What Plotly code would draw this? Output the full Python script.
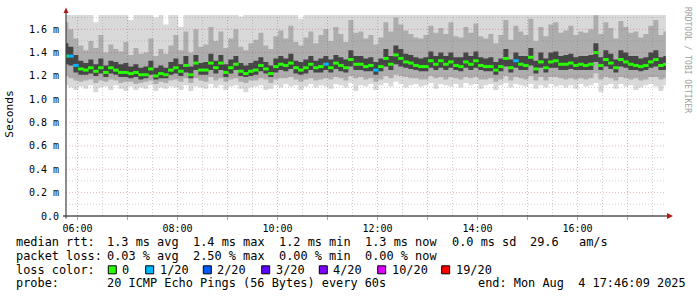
import plotly.graph_objects as go
import pandas as pd

# ---------------- data (milliseconds) ----------------
start_time = "2025-08-04 05:46:00"
end_time = "2025-08-04 17:46:00"
step = "6min"

median = [1.37, 1.37, 1.29, 1.26, 1.25, 1.27, 1.24, 1.27, 1.23, 1.27, 1.25,
          1.23, 1.23, 1.22, 1.23, 1.21, 1.21, 1.26, 1.20, 1.22, 1.21,
          1.25, 1.27, 1.24, 1.29, 1.21, 1.31, 1.25, 1.25, 1.31, 1.27,
          1.31, 1.23, 1.27, 1.30, 1.24, 1.22, 1.24, 1.25, 1.29, 1.26,
          1.22, 1.28, 1.30, 1.29, 1.31, 1.27, 1.25, 1.27, 1.30, 1.27,
          1.28, 1.30, 1.27, 1.31, 1.29, 1.27, 1.34, 1.30, 1.30, 1.28,
          1.29, 1.25, 1.28, 1.35, 1.30, 1.38, 1.35, 1.32, 1.31, 1.29,
          1.28, 1.28, 1.33, 1.30, 1.33, 1.30, 1.32, 1.29, 1.28, 1.32,
          1.30, 1.33, 1.29, 1.28, 1.28, 1.25, 1.28, 1.35, 1.27, 1.33,
          1.30, 1.29, 1.36, 1.26, 1.32, 1.27, 1.32, 1.33, 1.30, 1.30,
          1.31, 1.29, 1.30, 1.29, 1.30, 1.40, 1.29, 1.34, 1.31, 1.27,
          1.34, 1.32, 1.30, 1.29, 1.28, 1.29, 1.32, 1.34, 1.29, 1.30]

smoke_min = [1.12, 1.10, 1.08, 1.11, 1.09, 1.12, 1.06, 1.10, 1.11, 1.08, 1.12,
             1.09, 1.07, 1.11, 1.08, 1.10, 1.09, 1.12, 1.07, 1.10, 1.09,
             1.11, 1.10, 1.08, 1.12, 1.07, 1.11, 1.10, 1.09, 1.13, 1.10,
             1.12, 1.08, 1.11, 1.12, 1.09, 1.06, 1.10, 1.11, 1.12, 1.08,
             1.09, 1.12, 1.10, 1.13, 1.11, 1.12, 1.08, 1.11, 1.13, 1.10,
             1.12, 1.11, 1.09, 1.13, 1.12, 1.10, 1.14, 1.07, 1.12, 1.11,
             1.13, 1.08, 1.12, 1.14, 1.11, 1.15, 1.13, 1.10, 1.12, 1.13,
             1.11, 1.12, 1.14, 1.09, 1.13, 1.12, 1.11, 1.13, 1.10, 1.14,
             1.12, 1.13, 1.09, 1.12, 1.13, 1.08, 1.12, 1.14, 1.10, 1.13,
             1.12, 1.11, 1.13, 1.09, 1.12, 1.10, 1.13, 1.11, 1.12, 1.10,
             1.12, 1.09, 1.13, 1.11, 1.12, 1.14, 1.06, 1.12, 1.13, 1.09,
             1.13, 1.11, 1.12, 1.08, 1.10, 1.12, 1.13, 1.11, 1.07, 1.12]

smoke_low2 = [1.20, 1.18, 1.16, 1.15, 1.16, 1.17, 1.14, 1.16, 1.15, 1.17, 1.16,
              1.14, 1.15, 1.15, 1.13, 1.14, 1.15, 1.16, 1.13, 1.15, 1.14,
              1.16, 1.17, 1.15, 1.18, 1.14, 1.18, 1.16, 1.15, 1.19, 1.16,
              1.18, 1.15, 1.17, 1.18, 1.15, 1.14, 1.16, 1.16, 1.18, 1.17,
              1.14, 1.17, 1.18, 1.18, 1.19, 1.17, 1.15, 1.17, 1.18, 1.16,
              1.17, 1.18, 1.17, 1.19, 1.18, 1.16, 1.20, 1.18, 1.19, 1.17,
              1.18, 1.15, 1.17, 1.20, 1.18, 1.21, 1.20, 1.19, 1.18, 1.18,
              1.17, 1.17, 1.20, 1.18, 1.19, 1.17, 1.19, 1.18, 1.17, 1.19,
              1.18, 1.19, 1.17, 1.17, 1.18, 1.15, 1.17, 1.20, 1.16, 1.19,
              1.18, 1.17, 1.20, 1.16, 1.19, 1.16, 1.19, 1.19, 1.18, 1.17,
              1.18, 1.17, 1.18, 1.17, 1.18, 1.22, 1.17, 1.19, 1.18, 1.16,
              1.19, 1.18, 1.17, 1.18, 1.16, 1.17, 1.19, 1.19, 1.17, 1.18]

smoke_low1 = [1.30, 1.29, 1.23, 1.21, 1.21, 1.22, 1.20, 1.22, 1.19, 1.22, 1.21,
              1.19, 1.19, 1.18, 1.19, 1.17, 1.18, 1.21, 1.17, 1.18, 1.18,
              1.21, 1.22, 1.20, 1.23, 1.18, 1.25, 1.21, 1.21, 1.25, 1.22,
              1.25, 1.19, 1.22, 1.25, 1.20, 1.19, 1.20, 1.21, 1.24, 1.22,
              1.19, 1.23, 1.25, 1.24, 1.26, 1.22, 1.21, 1.22, 1.25, 1.23,
              1.23, 1.25, 1.23, 1.26, 1.24, 1.23, 1.28, 1.25, 1.25, 1.24,
              1.24, 1.21, 1.24, 1.28, 1.25, 1.30, 1.28, 1.27, 1.26, 1.25,
              1.24, 1.24, 1.27, 1.25, 1.27, 1.25, 1.27, 1.25, 1.24, 1.27,
              1.25, 1.27, 1.25, 1.24, 1.24, 1.21, 1.24, 1.28, 1.23, 1.27,
              1.25, 1.25, 1.29, 1.22, 1.27, 1.23, 1.27, 1.27, 1.25, 1.25,
              1.26, 1.25, 1.25, 1.25, 1.25, 1.32, 1.25, 1.28, 1.26, 1.23,
              1.28, 1.27, 1.25, 1.25, 1.24, 1.25, 1.27, 1.28, 1.25, 1.25]

smoke_high1 = [1.48, 1.45, 1.38, 1.33, 1.31, 1.34, 1.30, 1.35, 1.29, 1.33, 1.32,
               1.30, 1.31, 1.28, 1.30, 1.27, 1.28, 1.33, 1.27, 1.29, 1.27,
               1.32, 1.35, 1.30, 1.37, 1.28, 1.38, 1.31, 1.32, 1.39, 1.33,
               1.38, 1.30, 1.34, 1.37, 1.31, 1.29, 1.31, 1.33, 1.36, 1.32,
               1.29, 1.35, 1.37, 1.35, 1.39, 1.33, 1.32, 1.34, 1.37, 1.33,
               1.35, 1.37, 1.34, 1.38, 1.36, 1.34, 1.42, 1.37, 1.37, 1.35,
               1.36, 1.32, 1.35, 1.43, 1.37, 1.46, 1.43, 1.39, 1.38, 1.36,
               1.35, 1.36, 1.41, 1.37, 1.40, 1.37, 1.40, 1.36, 1.36, 1.40,
               1.37, 1.41, 1.36, 1.35, 1.36, 1.32, 1.35, 1.43, 1.34, 1.40,
               1.37, 1.37, 1.44, 1.33, 1.40, 1.35, 1.40, 1.41, 1.37, 1.38,
               1.39, 1.36, 1.37, 1.37, 1.38, 1.48, 1.36, 1.42, 1.39, 1.34,
               1.42, 1.40, 1.37, 1.37, 1.35, 1.36, 1.40, 1.42, 1.36, 1.37]

smoke_high2 = [1.66, 1.60, 1.52, 1.46, 1.42, 1.50, 1.44, 1.55, 1.40, 1.47, 1.43,
               1.41, 1.49, 1.38, 1.44, 1.39, 1.40, 1.52, 1.37, 1.43, 1.39,
               1.46, 1.55, 1.42, 1.58, 1.40, 1.60, 1.45, 1.47, 1.62, 1.50,
               1.58, 1.44, 1.52, 1.60, 1.45, 1.42, 1.48, 1.51, 1.57, 1.46,
               1.43, 1.54, 1.59, 1.52, 1.63, 1.49, 1.46, 1.53, 1.58, 1.48,
               1.55, 1.60, 1.50, 1.62, 1.56, 1.49, 1.68, 1.57, 1.58, 1.52,
               1.55, 1.47, 1.53, 1.66, 1.58, 1.70, 1.64, 1.59, 1.56, 1.53,
               1.52, 1.55, 1.63, 1.57, 1.61, 1.56, 1.66, 1.54, 1.53, 1.62,
               1.57, 1.65, 1.54, 1.52, 1.56, 1.48, 1.55, 1.68, 1.51, 1.63,
               1.58, 1.55, 1.69, 1.50, 1.62, 1.54, 1.64, 1.66, 1.57, 1.59,
               1.63, 1.55, 1.58, 1.57, 1.60, 1.72, 1.56, 1.66, 1.61, 1.52,
               1.67, 1.62, 1.57, 1.58, 1.53, 1.56, 1.63, 1.68, 1.55, 1.58]

smoke_max = [1.90, 1.85, 1.80, 1.76, 1.74, 1.80, 1.66, 1.78, 1.75, 1.80, 1.73,
             1.76, 1.82, 1.68, 1.75, 1.74, 1.79, 1.85, 1.70, 1.77, 1.64,
             1.78, 1.80, 1.62, 1.86, 1.76, 1.84, 1.75, 1.78, 1.88, 1.80,
             1.84, 1.74, 1.79, 1.82, 1.71, 1.78, 1.80, 1.83, 1.86, 1.76,
             1.74, 1.82, 1.85, 1.79, 1.88, 1.78, 1.69, 1.80, 1.86, 1.77,
             1.80, 1.84, 1.76, 1.88, 1.82, 1.75, 1.92, 1.80, 1.85, 1.78,
             1.83, 1.76, 1.81, 1.90, 1.84, 1.95, 1.88, 1.82, 1.80, 1.79,
             1.78, 1.83, 1.88, 1.80, 1.85, 1.82, 1.90, 1.79, 1.81, 1.87,
             1.82, 1.89, 1.78, 1.76, 1.83, 1.74, 1.81, 1.92, 1.77, 1.88,
             1.84, 1.80, 1.93, 1.76, 1.86, 1.79, 1.88, 1.90, 1.82, 1.84,
             1.87, 1.80, 1.74, 1.83, 1.85, 1.96, 1.81, 1.90, 1.86, 1.78,
             1.91, 1.86, 1.82, 1.83, 1.78, 1.80, 1.87, 1.92, 1.81, 1.84]

# samples that lost 1 of 20 pings
loss_index = [1, 2, 52, 62, 90]

# axis ticks
y_tick_values = [0.0, 0.2, 0.4, 0.6, 0.8, 1.0, 1.2, 1.4, 1.6]
y_tick_labels = ["0.0", "0.2 m", "0.4 m", "0.6 m", "0.8 m", "1.0 m", "1.2 m", "1.4 m", "1.6 m"]

# legend statistics
rtt_stat_names = ["avg", "max", "min", "now"]
rtt_stat_values = [1.3, 1.4, 1.2, 1.3]
rtt_sd = 0.0
rtt_am_s = 29.6
loss_stat_values = [0.03, 2.50, 0.00, 0.00]
loss_color_labels = ["0", "1/20", "2/20", "3/20", "4/20", "10/20", "19/20"]
loss_colors = ["#26ff00", "#00b8ff", "#0059ff", "#5e00ff", "#7e00ff", "#dd00ff", "#ff0000"]
probe_text = "20 ICMP Echo Pings (56 Bytes) every 60s"
end_text = "end: Mon Aug  4 17:46:09 2025"

# ---------------- layout geometry ----------------
W, H = 697, 297
ML, MR, MT, MB = 66, 31, 15, 81.4
PW = W - ML - MR
PH = H - MT - MB
Y_MAX = 1.722
X0 = "2025-08-04 05:46:09"
X1 = "2025-08-04 17:46:09"
MONO = "DejaVu Sans Mono"


def px(x):
    return (x - ML) / PW


def py(y):
    return (H - MB - y) / PH


times = pd.date_range(start_time, end_time, freq=step)

fig = go.Figure()


def band(lo, hi, color):
    fig.add_trace(go.Scatter(x=times, y=lo, mode="lines",
                             line=dict(width=0, shape="hvh"),
                             hoverinfo="skip", showlegend=False))
    fig.add_trace(go.Scatter(x=times, y=hi, mode="lines",
                             line=dict(width=0, shape="hvh"),
                             fill="tonexty", fillcolor=color,
                             hoverinfo="skip", showlegend=False))


band(smoke_min, smoke_max, "rgba(0,0,0,0.15)")
band(smoke_low2, smoke_high2, "rgba(0,0,0,0.2)")
band(smoke_low1, smoke_high1, "rgba(0,0,0,0.6)")

marker_colors = [loss_colors[0]] * len(median)
for i in loss_index:
    marker_colors[i] = loss_colors[1]

fig.add_trace(go.Scatter(x=times, y=median, mode="markers",
                         marker=dict(symbol="line-ew", size=4,
                                     line=dict(width=3, color=marker_colors)),
                         showlegend=False))

shapes = []
MAJOR = "rgba(200,60,60,0.38)"
MINOR = "rgba(120,120,120,0.35)"
# vertical grid
for t in pd.date_range("2025-08-04 06:00", "2025-08-04 17:30", freq="30min"):
    col = MAJOR if t.minute == 0 else MINOR
    shapes.append(dict(type="line", xref="x", yref="paper", x0=t, x1=t, y0=0, y1=1,
                       line=dict(color=col, width=1, dash="1px,2px"), layer="above"))
# horizontal grid
for k in range(1, 18):
    v = k / 10
    col = MAJOR if k % 2 == 0 else MINOR
    shapes.append(dict(type="line", xref="paper", yref="y", x0=0, x1=1, y0=v, y1=v,
                       line=dict(color=col, width=1, dash="1px,2px"), layer="above"))
# axes lines and arrows
shapes.append(dict(type="line", xref="paper", yref="paper", x0=px(63), x1=px(668),
                   y0=0, y1=0, line=dict(color="#000000", width=1), layer="above"))
shapes.append(dict(type="path", xref="paper", yref="paper",
                   path=f"M {px(667)} {py(212.5)} L {px(673)} {py(215.6)} L {px(667)} {py(218.7)} Z",
                   fillcolor="#b01818", line=dict(width=0), layer="above"))
shapes.append(dict(type="line", xref="paper", yref="paper", x0=0, x1=0,
                   y0=py(218), y1=py(11), line=dict(color="#404040", width=1.2), layer="above"))
shapes.append(dict(type="path", xref="paper", yref="paper",
                   path=f"M {px(63.5)} {py(13)} L {px(66)} {py(7.5)} L {px(68.5)} {py(13)} Z",
                   fillcolor="#b01818", line=dict(width=0), layer="above"))

annotations = []


def text(x, y, s, size=11.9, color="#000000", angle=0, xanchor="left"):
    annotations.append(dict(xref="paper", yref="paper", x=px(x), y=py(y),
                            text=s.replace(" ", "\u00a0"), showarrow=False,
                            xanchor=xanchor, yanchor="middle", textangle=angle,
                            borderpad=0, borderwidth=0,
                            font=dict(family=MONO, size=size, color=color)))


stat_x = [107.3, 193.3, 279.3, 365.0]
row_y = [241.7, 255.2, 269.0, 282.7]

text(16, row_y[0], "median rtt:")
for x, v, n in zip(stat_x, rtt_stat_values, rtt_stat_names):
    text(x, row_y[0], f"{v:.1f} ms {n}")
text(451.7, row_y[0], f"{rtt_sd:.1f} ms sd")
text(530, row_y[0], f"{rtt_am_s:.1f}")
text(579.3, row_y[0], "am/s")

text(16, row_y[1], "packet loss:")
for x, v, n in zip(stat_x, loss_stat_values, rtt_stat_names):
    text(x, row_y[1], f"{v:.2f} % {n}")

text(16, row_y[2], "loss color:")
box_x = [108.3, 145.7, 203.3, 261.7, 319.3, 377.7, 441.7]
for bx, lab, col in zip(box_x, loss_color_labels, loss_colors):
    shapes.append(dict(type="rect", xref="paper", yref="paper",
                       x0=px(bx), x1=px(bx + 8), y0=py(273.3), y1=py(265.3),
                       fillcolor=col, line=dict(color="#000000", width=1), layer="above"))
    text(bx + 14, row_y[2], lab)

text(16, row_y[3], "probe:")
text(107.3, row_y[3], probe_text)
text(478.3, row_y[3], end_text)

text(10, 113.5, "Seconds", size=11.3, angle=-90, xanchor="center")
text(688, 60, "RRDTOOL / TOBI OETIKER", size=8, color="#a0a0a0", angle=90, xanchor="center")

fig.update_layout(
    width=W, height=H,
    margin=dict(l=ML, r=MR, t=MT, b=MB, pad=0),
    paper_bgcolor="#ffffff", plot_bgcolor="#ffffff",
    showlegend=False,
    shapes=shapes, annotations=annotations,
    xaxis=dict(type="date", range=[X0, X1], showgrid=False, zeroline=False,
               showline=False, tick0="2025-08-04 06:00", dtick=3600000,
               ticklabelstep=2, tickformat="%H:%M", ticks="outside", ticklen=3,
               tickcolor="rgba(200,70,70,0.6)", tickwidth=1,
               tickfont=dict(family=MONO, size=10, color="#000000")),
    yaxis=dict(range=[0, Y_MAX], showgrid=False, zeroline=False, showline=False,
               tickvals=y_tick_values, ticktext=y_tick_labels, ticks="",
               ticklabelstandoff=6,
               tickfont=dict(family=MONO, size=10, color="#000000")),
)

fig.write_html("out.html")
